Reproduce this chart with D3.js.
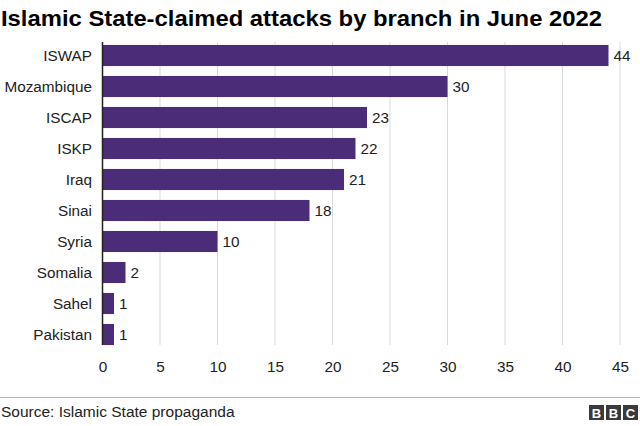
<!DOCTYPE html>
<html>
<head>
  <script src="https://cdn.jsdelivr.net/npm/d3@7"></script>
  <style>
    body { margin: 0; background: #fff; }
    svg { display: block; font-family: "Liberation Sans", Arial, sans-serif; }
  </style>
</head>
<body>
  <script>
    const branches = ['ISWAP', 'Mozambique', 'ISCAP', 'ISKP', 'Iraq', 'Sinai', 'Syria', 'Somalia', 'Sahel', 'Pakistan']
    const attacks = [44, 30, 23, 22, 21, 18, 10, 2, 1, 1]
    const xTicks = [0, 5, 10, 15, 20, 25, 30, 35, 40, 45]

    const W = 640, H = 426
    const barColor = '#4b2c79'
    const fs = 15.3

    const svg = d3.select('body').append('svg').attr('width', W).attr('height', H)

    // title
    svg.append('text')
      .attr('x', 1).attr('y', 26)
      .attr('font-size', 22.5).attr('font-weight', 'bold').attr('fill', '#000')
      .attr('textLength', 601).attr('lengthAdjust', 'spacingAndGlyphs')
      .text('Islamic State-claimed attacks by branch in June 2022')

    const x = d3.scaleLinear().domain([0, 45]).range([102.5, 620])
    const y = d3.scaleBand().domain(branches).range([40, 350]).paddingInner(0.32).paddingOuter(0.16)

    // gridlines
    svg.append('g').selectAll('line').data(xTicks.slice(1)).join('line')
      .attr('x1', d => x(d)).attr('x2', d => x(d))
      .attr('y1', 42).attr('y2', 345)
      .attr('stroke', '#d9d9d9').attr('stroke-width', 1)

    const rows = branches.map((b, i) => ({ b, v: attacks[i] }))

    svg.append('g').selectAll('rect').data(rows).join('rect')
      .attr('x', x(0)).attr('y', d => y(d.b))
      .attr('width', d => x(d.v) - x(0)).attr('height', y.bandwidth())
      .attr('fill', barColor)

    // baseline
    svg.append('line')
      .attr('x1', x(0)).attr('x2', x(0)).attr('y1', 42).attr('y2', 345)
      .attr('stroke', '#222').attr('stroke-width', 1.5)

    // category labels
    svg.append('g').selectAll('text').data(rows).join('text')
      .attr('x', 92).attr('y', d => y(d.b) + y.bandwidth() / 2)
      .attr('dy', '0.35em').attr('text-anchor', 'end')
      .attr('font-size', fs).attr('fill', '#222')
      .text(d => d.b)

    // value labels
    svg.append('g').selectAll('text').data(rows).join('text')
      .attr('x', d => x(d.v) + 5).attr('y', d => y(d.b) + y.bandwidth() / 2)
      .attr('dy', '0.35em')
      .attr('font-size', fs).attr('fill', '#222')
      .text(d => d.v)

    // x axis
    const axis = svg.append('g').attr('transform', 'translate(0,345)')
      .call(d3.axisBottom(x).tickValues(xTicks).tickSize(0).tickPadding(16))
    axis.select('.domain').remove()
    axis.selectAll('text').attr('font-size', fs).attr('fill', '#222')
      .attr('font-family', '"Liberation Sans", Arial, sans-serif')

    // footer
    svg.append('line').attr('x1', 0).attr('x2', W).attr('y1', 397.5).attr('y2', 397.5)
      .attr('stroke', '#bbb').attr('stroke-width', 1)
    svg.append('text').attr('x', 1).attr('y', 417)
      .attr('font-size', 15.5).attr('fill', '#222')
      .text('Source: Islamic State propaganda')

    const logo = svg.append('g').attr('transform', 'translate(589,405)')
    ;['B', 'B', 'C'].forEach((c, i) => {
      logo.append('rect').attr('x', i * 17).attr('y', 0).attr('width', 15).attr('height', 15).attr('fill', '#3a3a3a')
      logo.append('text').attr('x', i * 17 + 7.5).attr('y', 12.5).attr('text-anchor', 'middle')
        .attr('font-size', 13).attr('font-weight', 'bold').attr('fill', '#fff').text(c)
    })
  </script>
</body>
</html>
